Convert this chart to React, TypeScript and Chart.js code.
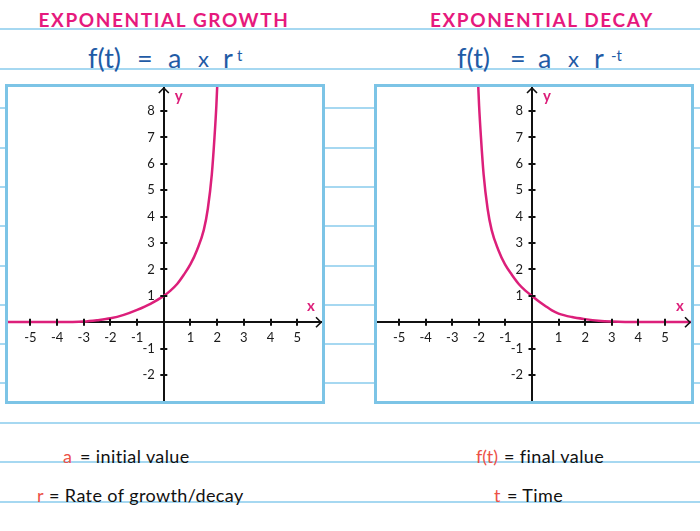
import React, { useEffect, useRef } from "react";
import { Chart, registerables } from "chart.js";

Chart.register(...registerables);

// ---- data ----
const growthT = [-6, -5, -4, -3, -2.5, -2, -1.5, -1, -0.5, 0, 0.25, 0.5, 0.75, 1.0, 1.25, 1.5, 1.65, 1.8, 1.9, 1.97, 2.03];
const growthY = [0.01, 0.01, 0.01, 0.03, 0.08, 0.15, 0.28, 0.47, 0.7, 1.0, 1.2, 1.45, 1.8, 2.2, 2.75, 3.5, 4.3, 5.6, 7.0, 8.2, 9.6];
const decayT = [-2.05, -1.99, -1.92, -1.82, -1.67, -1.52, -1.27, -1.02, -0.76, -0.5, -0.25, 0, 0.25, 0.5, 0.75, 1, 1.5, 2, 2.5, 3, 4, 5, 6.1];
const decayY = [9.6, 8.2, 7.0, 5.6, 4.3, 3.5, 2.75, 2.2, 1.8, 1.45, 1.2, 1.0, 0.8, 0.62, 0.45, 0.33, 0.2, 0.12, 0.06, 0.03, 0.01, 0.01, 0.01];
const xTickValues = [-5, -4, -3, -2, -1, 1, 2, 3, 4, 5];
const yTickValues = [-2, -1, 1, 2, 3, 4, 5, 6, 7, 8];
const titleGrowth = "EXPONENTIAL GROWTH";
const titleDecay = "EXPONENTIAL DECAY";

const PINK = "#dc1f7a";
const TITLE_PINK = "#e6197d";
const BLUE = "#1f5ba6";
const RED = "#ec5147";
const RULE = "#a6d8f1";
const BOX = "#7cc4e6";

type ChartProps = { t: number[]; y: number[]; xMin: number; xMax: number; left: number };

function AxisChart({ t, y, xMin, xMax, left }: ChartProps) {
  const ref = useRef<HTMLCanvasElement | null>(null);
  useEffect(() => {
    if (!ref.current) return;
    const deco = {
      id: "deco",
      afterLayout(chart: any) {
        const xs = chart.scales.x;
        const ys = chart.scales.y;
        const x0 = xs.getPixelForValue(0);
        const y0 = ys.getPixelForValue(0);
        ys.left = 0;
        ys.right = x0;
        xs.top = y0;
        xs.bottom = chart.height;
      },
      afterDatasetsDraw(chart: any) {
        const ctx = chart.ctx;
        const xs = chart.scales.x;
        const ys = chart.scales.y;
        const x0 = xs.getPixelForValue(0);
        const y0 = ys.getPixelForValue(0);
        const { top, right } = chart.chartArea;
        ctx.save();
        ctx.strokeStyle = "#111";
        ctx.lineWidth = 2;
        ctx.lineCap = "butt";
        xTickValues.forEach((v) => {
          const px = Math.round(xs.getPixelForValue(v));
          ctx.beginPath();
          ctx.moveTo(px, y0 - 3.5);
          ctx.lineTo(px, y0 + 3.5);
          ctx.stroke();
        });
        yTickValues.forEach((v) => {
          const py = Math.round(ys.getPixelForValue(v));
          ctx.beginPath();
          ctx.moveTo(x0 - 3.5, py);
          ctx.lineTo(x0 + 3.5, py);
          ctx.stroke();
        });
        ctx.lineWidth = 1.6;
        ctx.beginPath();
        ctx.moveTo(x0 - 5, top + 6);
        ctx.lineTo(x0, top + 1);
        ctx.lineTo(x0 + 5, top + 6);
        ctx.stroke();
        ctx.beginPath();
        ctx.moveTo(right - 6, y0 - 5);
        ctx.lineTo(right - 1, y0);
        ctx.lineTo(right - 6, y0 + 5);
        ctx.stroke();
        ctx.fillStyle = PINK;
        ctx.font = "bold 15px Lato";
        ctx.textAlign = "center";
        ctx.textBaseline = "alphabetic";
        ctx.fillText("y", x0 + 15, top + 14);
        ctx.fillText("x", right - 11, y0 - 11);
        ctx.restore();
      },
    };
    const chart = new Chart(ref.current, {
      type: "scatter",
      data: {
        datasets: [
          {
            data: t.map((v, i) => ({ x: v, y: y[i] })),
            showLine: true,
            borderColor: PINK,
            borderWidth: 2.5,
            pointRadius: 0,
            cubicInterpolationMode: "monotone",
            fill: false,
          } as any,
        ],
      },
      options: {
        animation: false,
        responsive: false,
        events: [],
        layout: { padding: 0 },
        plugins: { legend: { display: false }, tooltip: { enabled: false } },
        scales: {
          x: {
            type: "linear",
            min: xMin,
            max: xMax,
            position: "bottom",
            grid: { display: false, drawTicks: false },
            border: { display: true, color: "#111", width: 2 },
            afterBuildTicks: (s: any) => {
              s.ticks = xTickValues.map((v) => ({ value: v }));
            },
            afterFit: (s: any) => {
              s.height = 0;
              s.paddingLeft = 0;
              s.paddingRight = 0;
              s.paddingTop = 0;
              s.paddingBottom = 0;
            },
            ticks: {
              autoSkip: false,
              maxRotation: 0,
              padding: 8,
              color: "#1a1a1a",
              font: { family: "Lato", size: 13 },
            },
          },
          y: {
            type: "linear",
            min: -2.98,
            max: 8.91,
            position: "left",
            grid: { display: false, drawTicks: false },
            border: { display: true, color: "#111", width: 2 },
            afterBuildTicks: (s: any) => {
              s.ticks = yTickValues.map((v) => ({ value: v }));
            },
            afterFit: (s: any) => {
              s.width = 0;
              s.paddingLeft = 0;
              s.paddingRight = 0;
              s.paddingTop = 0;
              s.paddingBottom = 0;
            },
            ticks: {
              autoSkip: false,
              padding: 9,
              color: "#1a1a1a",
              font: { family: "Lato", size: 13 },
            },
          },
        },
      },
      plugins: [deco],
    });
    return () => chart.destroy();
  }, []);
  return (
    <div
      style={{
        position: "absolute",
        left,
        top: 84,
        width: 320,
        height: 320,
        border: `3px solid ${BOX}`,
        boxSizing: "border-box",
        background: "#fff",
      }}
    >
      <canvas ref={ref} width={314} height={314} style={{ position: "absolute", left: 0, top: 0, width: 314, height: 314 }} />
    </div>
  );
}

const ruleYs = [29, 69, 108, 148, 187, 226, 266, 305, 344, 383, 423, 462, 502];

function Tok({ x, base, size, color, children, weight, spacing }: any) {
  return (
    <span
      style={{
        position: "absolute",
        left: x,
        top: base - size * 0.887,
        fontSize: size,
        lineHeight: `${size}px`,
        color,
        fontWeight: weight || 400,
        letterSpacing: spacing || 0,
        whiteSpace: "nowrap",
        fontFamily: "Lato, sans-serif",
      }}
    >
      {children}
    </span>
  );
}

export default function App() {
  return (
    <div
      style={{
        position: "absolute",
        left: 0,
        top: 0,
        width: 700,
        height: 531,
        background: "#fff",
        overflow: "hidden",
        fontFamily: "Lato, sans-serif",
      }}
    >
      {ruleYs.map((yy) => (
        <div key={yy} style={{ position: "absolute", left: 0, top: yy - 1, width: 700, height: 2, background: RULE }} />
      ))}

      <div style={{ position: "absolute", left: 14, width: 300, top: 27 - 19 * 0.887, textAlign: "center", fontSize: 19, lineHeight: "19px", fontWeight: 700, letterSpacing: 1.6, color: TITLE_PINK }}>
        {titleGrowth}
      </div>
      <div style={{ position: "absolute", left: 392, width: 300, top: 27 - 19 * 0.887, textAlign: "center", fontSize: 19, lineHeight: "19px", fontWeight: 700, letterSpacing: 1.6, color: TITLE_PINK }}>
        {titleDecay}
      </div>

      <Tok x={88} base={68} size={27} color={BLUE}>f(t)</Tok>
      <Tok x={137} base={68} size={27} color={BLUE}>=</Tok>
      <Tok x={168} base={68} size={27} color={BLUE}>a</Tok>
      <Tok x={198} base={68} size={22} color={BLUE}>x</Tok>
      <Tok x={223} base={68} size={27} color={BLUE}>r</Tok>
      <Tok x={237} base={61} size={15} color={BLUE}>t</Tok>

      <Tok x={457} base={68} size={27} color={BLUE}>f(t)</Tok>
      <Tok x={510} base={68} size={27} color={BLUE}>=</Tok>
      <Tok x={538} base={68} size={27} color={BLUE}>a</Tok>
      <Tok x={568} base={68} size={22} color={BLUE}>x</Tok>
      <Tok x={594} base={68} size={27} color={BLUE}>r</Tok>
      <Tok x={611} base={61} size={15} color={BLUE}>-t</Tok>

      <AxisChart t={growthT} y={growthY} xMin={-5.84} xMax={5.93} left={5} />
      <AxisChart t={decayT} y={decayY} xMin={-5.83} xMax={5.98} left={374} />

      <Tok x={63} base={463} size={18} color={RED}>a</Tok>
      <Tok x={80} base={463} size={18} color="#111" spacing={0.4}>= initial value</Tok>
      <Tok x={37} base={502} size={18} color={RED}>r</Tok>
      <Tok x={49} base={502} size={18} color="#111" spacing={0.4}>= Rate of growth/decay</Tok>
      <Tok x={476} base={463} size={18} color={RED}>f(t)</Tok>
      <Tok x={504} base={463} size={18} color="#111" spacing={0.4}>= final value</Tok>
      <Tok x={494} base={502} size={18} color={RED}>t</Tok>
      <Tok x={507} base={502} size={18} color="#111" spacing={0.4}>= Time</Tok>
    </div>
  );
}
